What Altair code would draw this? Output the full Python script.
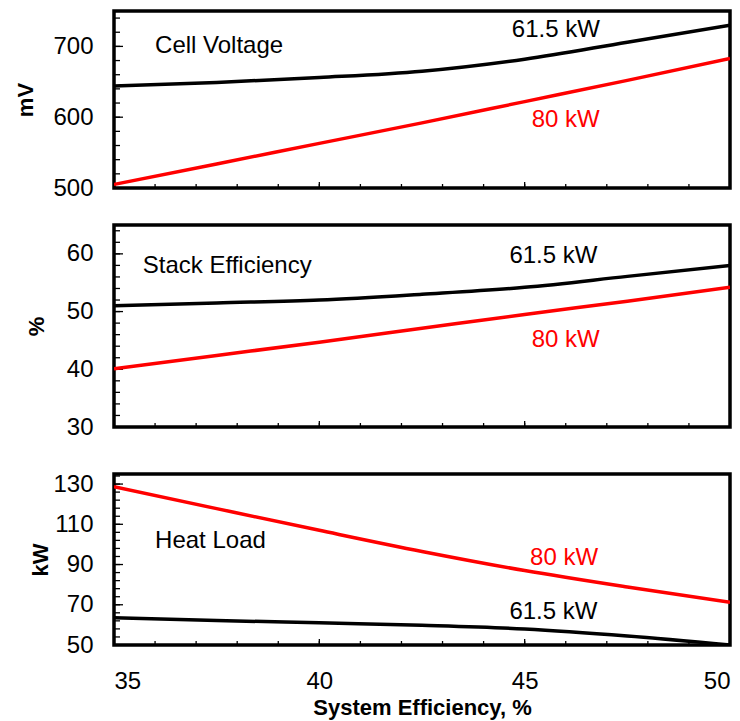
import altair as alt
import pandas as pd

# System efficiency (%) at which each curve is sampled
system_eff = [35, 37.5, 40, 42.5, 45, 47.5, 50]
series_names = ["61.5 kW", "80 kW"]

cell_voltage_615 = [644, 649, 656, 665, 682, 706, 730]
cell_voltage_80 = [505, 534, 563, 592, 622, 652, 683]
stack_eff_615 = [51.0, 51.5, 52.0, 53.0, 54.2, 56.1, 58.0]
stack_eff_80 = [40.1, 42.4, 44.7, 47.1, 49.5, 51.8, 54.2]
heat_load_615 = [63.5, 62.2, 61.0, 59.8, 58.0, 54.5, 50.0]
heat_load_80 = [128.7, 117.8, 107.0, 96.5, 87.0, 78.8, 71.2]

x_major = [35, 40, 45, 50]
x_minor = list(range(35, 51))
voltage_major = [500, 600, 700]
voltage_minor = list(range(500, 751, 20))
stack_major = [30, 40, 50, 60]
stack_minor = list(range(30, 66, 2))
heat_major = [50, 70, 90, 110, 130]
heat_minor = list(range(50, 136, 4))

FONT = "Liberation Sans"
W = 616
X_SCALE = alt.Scale(domain=[35, 50], nice=False, zero=False)
COLOR = alt.Scale(domain=series_names, range=["#000000", "#ff0000"])


def panel(v615, v80, height, ydomain, ymajor, yminor, ytitle, title_pad,
          notes, x_axis):
    y_scale = alt.Scale(domain=ydomain, nice=False, zero=False)
    y_axis = alt.Axis(
        values=ymajor, title=ytitle, grid=False, domain=False, ticks=False,
        labelFont=FONT, labelFontSize=24, labelColor="#000000",
        labelPadding=21, titleFont=FONT, titleFontSize=22,
        titleFontWeight="bold", titleColor="#000000", titlePadding=title_pad)

    def X(field):
        return alt.X(field, type="quantitative", scale=X_SCALE, axis=x_axis)

    def Y(field):
        return alt.Y(field, type="quantitative", scale=y_scale, axis=y_axis)

    n = len(system_eff)
    df = pd.DataFrame({
        "eff": system_eff * 2,
        "value": v615 + v80,
        "series": [series_names[0]] * n + [series_names[1]] * n,
    })
    lines = alt.Chart(df).mark_line(
        strokeWidth=3.5, interpolate="monotone", clip=True
    ).encode(
        x=X("eff"), y=Y("value"),
        color=alt.Color("series:N", scale=COLOR, legend=None),
    )

    # inward tick marks on the left and bottom edges
    def yticks(vals, length):
        return alt.Chart(pd.DataFrame({"value": vals})).mark_rule(
            color="#000000", strokeWidth=1.3
        ).encode(y=Y("value"), x=alt.value(0), x2=alt.value(length))

    def xticks(vals, length):
        return alt.Chart(pd.DataFrame({"eff": vals})).mark_rule(
            color="#000000", strokeWidth=1.3
        ).encode(x=X("eff"), y=alt.value(height), y2=alt.value(height - length))

    def note(text, x, y, color="#000000", align="left"):
        return alt.Chart(pd.DataFrame({"label": [text]})).mark_text(
            font=FONT, fontSize=24, color=color, align=align,
            baseline="alphabetic"
        ).encode(x=alt.X(datum=x, scale=X_SCALE, axis=x_axis),
                 y=alt.Y(datum=y, scale=y_scale, axis=y_axis),
                 text="label:N")

    layers = [yticks(yminor, 6), yticks(ymajor, 9),
              xticks(x_minor, 4), xticks(x_major, 6), lines]
    layers += [note(*a, **k) for a, k in notes]
    return alt.layer(*layers).properties(width=W, height=height)


hidden_x = alt.Axis(labels=False, domain=False, ticks=False, grid=False,
                    title=None)
# invisible ticks that reserve a little extra room below the middle panel
spacer_x = alt.Axis(labels=False, domain=False, ticks=True, tickSize=20,
                    tickOpacity=0, grid=False, title=None, values=[35])
bottom_x = alt.Axis(values=x_major, title="System Efficiency, %",
                    grid=False, domain=False, ticks=False,
                    labelFont=FONT, labelFontSize=24, labelColor="#000000",
                    labelPadding=24, titleFont=FONT, titleFontSize=22,
                    titleFontWeight="bold", titleColor="#000000",
                    titlePadding=4)

p1 = panel(cell_voltage_615, cell_voltage_80, 177, [500, 750],
           voltage_major, voltage_minor, "mV", 15,
           [(("Cell Voltage", 36.0, 690.4), {}),
            ((series_names[0], 45.76, 713.7), {"align": "center"}),
            ((series_names[1], 46.0, 585.6),
             {"color": "#ff0000", "align": "center"})],
           hidden_x)

p2 = panel(stack_eff_615, stack_eff_80, 202, [30, 65],
           stack_major, stack_minor, "%", 18,
           [(("Stack Efficiency", 35.7, 56.7), {}),
            ((series_names[0], 45.7, 58.4), {"align": "center"}),
            ((series_names[1], 46.0, 43.9),
             {"color": "#ff0000", "align": "center"})],
           spacer_x)

p3 = panel(heat_load_615, heat_load_80, 171, [50, 135],
           heat_major, heat_minor, "kW", 0,
           [(("Heat Load", 36.0, 98.4), {}),
            ((series_names[1], 45.96, 89.8),
             {"color": "#ff0000", "align": "center"}),
            ((series_names[0], 45.7, 62.9), {"align": "center"})],
           bottom_x)

chart = alt.vconcat(p1, p2, p3, spacing=21).properties(
    background="#ffffff",
    padding={"left": 13, "top": 9, "right": 5, "bottom": 2},
).configure_view(
    stroke="#000000", strokeWidth=3.5
)

chart.save("out.html", embed_options={"renderer": "svg", "actions": False})
